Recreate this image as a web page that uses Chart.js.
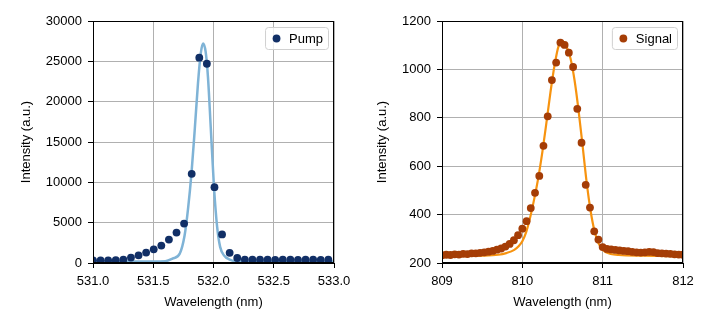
<!DOCTYPE html>
<html>
<head>
<meta charset="utf-8">
<script src="https://cdn.jsdelivr.net/npm/chart.js@4"></script>
<style>
  html, body { margin: 0; padding: 0; background: #fff; }
  #wrap { position: relative; width: 715px; height: 325px; }
  .box { position: absolute; top: 0; height: 325px; }
</style>
</head>
<body>
<div id="wrap">
  <div class="box" style="left:0;width:360px"><canvas id="pumpChart"></canvas></div>
  <div class="box" style="left:360px;width:355px"><canvas id="signalChart"></canvas></div>
</div>
<script>
// pump spectrum (measured points)
const pumpWl = [531.000, 531.063, 531.126, 531.189, 531.252, 531.315, 531.378, 531.441,
  531.504, 531.567, 531.630, 531.693, 531.756, 531.819, 531.882, 531.945,
  532.008, 532.071, 532.134, 532.197, 532.260, 532.323, 532.386, 532.449,
  532.512, 532.575, 532.638, 532.701, 532.764, 532.827, 532.890, 532.953];
const pumpInt = [330, 330, 330, 350, 420, 670, 955, 1290,
  1700, 2160, 2900, 3770, 4885, 11050, 25450, 24700,
  9400, 3540, 1260, 620, 420, 410, 400, 400,
  390, 400, 400, 390, 400, 400, 390, 400];

// pump fit curve
const pumpFitWl = [531.0, 531.5, 531.6, 531.66, 531.72, 531.76, 531.79, 531.817, 531.844,
  531.871, 531.894, 531.913, 531.935, 531.954, 531.977, 532.004, 532.03, 532.055,
  532.09, 532.13, 532.18, 532.3, 533.0];
const pumpFitInt = [200, 200, 230, 545, 1165, 3400, 6900, 11085, 16455,
  22245, 25965, 27200, 26165, 23065, 16860, 9425, 4500, 2000,
  900, 450, 230, 200, 200];

// signal spectrum (measured points)
const signalWl = [809.000, 809.053, 809.105, 809.158, 809.211, 809.263, 809.316, 809.368,
  809.421, 809.474, 809.526, 809.579, 809.632, 809.684, 809.737, 809.789,
  809.842, 809.895, 809.947, 810.000, 810.053, 810.105, 810.158, 810.211,
  810.263, 810.316, 810.368, 810.421, 810.474, 810.526, 810.579, 810.632,
  810.684, 810.737, 810.789, 810.842, 810.895, 810.947, 811.000, 811.053,
  811.105, 811.158, 811.211, 811.263, 811.316, 811.368, 811.421, 811.474,
  811.526, 811.579, 811.632, 811.684, 811.737, 811.789, 811.842, 811.895,
  811.947, 812.000];
const signalInt = [232, 234, 233, 236, 235, 238, 237, 240,
  240, 242, 244, 247, 250, 255, 260, 268,
  279, 294, 315, 342, 373, 427, 490, 560,
  684, 806, 956, 1028, 1111, 1101, 1069, 1010,
  837, 697, 523, 429, 331, 297, 266, 258,
  256, 254, 252, 250, 249, 246, 244, 243,
  244, 246, 245, 241, 240, 239, 238, 236,
  235, 234];

// signal fit curve
const signalFitWl = [809.0, 809.5, 809.7, 809.8, 809.9, 809.95, 810.0, 810.05, 810.1,
  810.15, 810.2, 810.25, 810.3, 810.35, 810.4, 810.45, 810.49, 810.55, 810.6,
  810.65, 810.7, 810.75, 810.8, 810.85, 810.9, 810.95, 811.0, 811.05, 811.1,
  811.2, 811.5, 812.0];
const signalFitInt = [228, 230, 234, 241, 254, 268, 290, 330, 392,
  468, 555, 660, 780, 905, 1015, 1095, 1118, 1095, 1045,
  955, 830, 685, 535, 415, 330, 280, 255, 243, 237,
  233, 230, 228];

const FONT = '"Liberation Sans", Arial, Helvetica, sans-serif';
Chart.defaults.font.family = FONT;
Chart.defaults.font.size = 13;
Chart.defaults.color = '#000';

const toXY = (xs, ys) => xs.map((x, i) => ({ x: x, y: ys[i] }));

// frame + legend box drawn like matplotlib
const framePlugin = {
  id: 'frame',
  afterDatasetsDraw(chart, args, opts) {
    const { ctx, chartArea: a } = chart;
    ctx.save();
    ctx.strokeStyle = '#000';
    ctx.lineWidth = 1;
    ctx.strokeRect(Math.round(a.left) + 0.5, Math.round(a.top) + 0.5,
      Math.round(a.right - a.left) - 1, Math.round(a.bottom - a.top) - 1);

    ctx.font = '13px ' + FONT;
    const tw = ctx.measureText(opts.label).width;
    const w = 24 + tw + 5, h = 22;
    const x0 = a.right - 6 - w, y0 = a.top + 6;
    ctx.beginPath();
    ctx.roundRect(x0 + 0.5, y0 + 0.5, w, h, 3);
    ctx.fillStyle = 'rgba(255,255,255,0.8)';
    ctx.fill();
    ctx.strokeStyle = '#d0d0d0';
    ctx.stroke();
    ctx.beginPath();
    ctx.arc(x0 + 11.5, y0 + 11.5, 3.9, 0, Math.PI * 2);
    ctx.fillStyle = opts.color;
    ctx.fill();
    ctx.fillStyle = '#000';
    ctx.textBaseline = 'middle';
    ctx.textAlign = 'left';
    ctx.fillText(opts.label, x0 + 24, y0 + 12);
    ctx.restore();
  }
};

function makeChart(id, cfg) {
  const ctx = document.getElementById(id).getContext('2d');
  return new Chart(ctx, {
    type: 'scatter',
    data: {
      datasets: [{
        label: cfg.label,
        data: toXY(cfg.wl, cfg.vals),
        backgroundColor: cfg.dotColor,
        borderWidth: 0,
        pointRadius: 3.9,
        pointHoverRadius: 3.9
      }, {
        label: 'fit',
        data: toXY(cfg.fitWl, cfg.fitVals),
        showLine: true,
        borderColor: cfg.lineColor,
        borderWidth: cfg.lineWidth,
        pointRadius: 0,
        cubicInterpolationMode: 'monotone'
      }]
    },
    options: {
      responsive: false,
      animation: false,
      devicePixelRatio: 1,
      layout: { padding: { top: 21, right: cfg.padRight, bottom: 0, left: 0 } },
      plugins: {
        legend: { display: false },
        tooltip: { enabled: false },
        frame: { label: cfg.label, color: cfg.dotColor }
      },
      scales: {
        x: {
          type: 'linear',
          min: cfg.xMin, max: cfg.xMax,
          afterFit: s => { s.height = 62; },
          ticks: { stepSize: cfg.xStep, padding: 6, color: '#000',
            callback: v => cfg.xFmt(v) },
          grid: { color: '#b0b0b0', lineWidth: 1, tickLength: 5, tickColor: '#000' },
          border: { color: '#000', width: 1 },
          title: { display: true, text: 'Wavelength (nm)', color: '#000',
            font: { size: 13 }, padding: { top: 0, bottom: 15 } }
        },
        y: {
          min: cfg.yMin, max: cfg.yMax,
          afterFit: s => { s.width = cfg.yWidth; },
          ticks: { stepSize: cfg.yStep, padding: 6, color: '#000',
            callback: v => String(v) },
          grid: { color: '#b0b0b0', lineWidth: 1, tickLength: 5, tickColor: '#000' },
          border: { color: '#000', width: 1 },
          title: { display: true, text: 'Intensity (a.u.)', color: '#000',
            font: { size: 13 }, padding: { top: cfg.yTitlePad, bottom: 0 } }
        }
      }
    },
    plugins: [framePlugin]
  });
}

const c1 = document.getElementById('pumpChart');
c1.width = 360; c1.height = 325;
const c2 = document.getElementById('signalChart');
c2.width = 355; c2.height = 325;

makeChart('pumpChart', {
  label: 'Pump', wl: pumpWl, vals: pumpInt, fitWl: pumpFitWl, fitVals: pumpFitInt,
  dotColor: '#112f66', lineColor: '#7fb3d6', lineWidth: 2.5,
  xMin: 531, xMax: 533, xStep: 0.5, xFmt: v => v.toFixed(1),
  yMin: 0, yMax: 30000, yStep: 5000, yWidth: 93, yTitlePad: 19, padRight: 26
});

makeChart('signalChart', {
  label: 'Signal', wl: signalWl, vals: signalInt, fitWl: signalFitWl, fitVals: signalFitInt,
  dotColor: '#a53d06', lineColor: '#f7930f', lineWidth: 2.2,
  xMin: 809, xMax: 812, xStep: 1, xFmt: v => String(v),
  yMin: 200, yMax: 1200, yStep: 200, yWidth: 82, yTitlePad: 15, padRight: 32
});
</script>
</body>
</html>
